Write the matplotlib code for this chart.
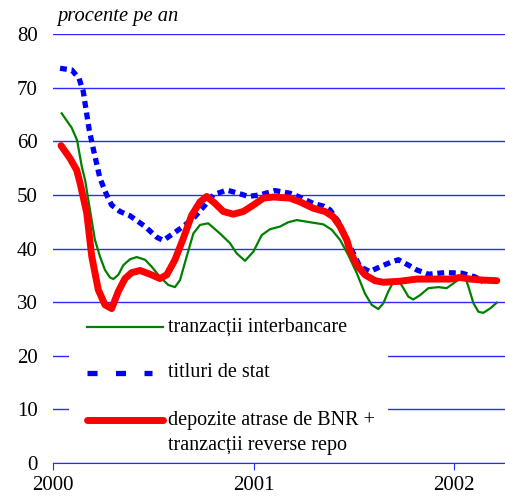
import matplotlib.pyplot as plt
from matplotlib.lines import Line2D
from matplotlib.patches import Rectangle

# months since Jan 2000
inter_m = [0.52, 1.12, 1.44, 1.72, 1.92, 2.21, 2.51, 2.81, 3.11, 3.41, 3.61, 3.91, 4.21,
           4.61, 5.01, 5.51, 5.91, 6.40, 6.90, 7.30, 7.60, 8.00, 8.40, 8.80, 9.29,
           9.99, 10.59, 10.99, 11.49, 11.99, 12.49, 12.99, 13.59, 14.08, 14.59,
           15.38, 16.18, 16.68, 17.18, 17.67, 18.18, 18.67, 19.07, 19.47, 19.77,
           20.07, 20.37, 20.67, 20.97, 21.27, 21.56, 21.97, 22.46, 23.06, 23.56,
           23.96, 24.36, 24.66, 24.86, 25.16, 25.46, 25.75, 26.15, 26.56]
inter_v = [65.2, 62.5, 60.2, 55.3, 52.8, 47.2, 41.6, 38.5, 36.0, 34.6, 34.3, 35.1, 36.9,
           38.0, 38.4, 37.9, 36.6, 34.7, 33.2, 32.8, 34.1, 38.5, 42.8, 44.4, 44.7,
           42.8, 41.0, 39.1, 37.7, 39.4, 42.5, 43.6, 44.1, 44.9, 45.3,
           44.9, 44.5, 43.5, 41.6, 38.8, 35.4, 31.6, 29.5, 28.7, 29.8,
           32.0, 33.8, 34.1, 32.6, 31.0, 30.5, 31.3, 32.6, 32.8, 32.6,
           33.5, 34.4, 34.7, 32.9, 29.8, 28.2, 28.0, 28.8, 29.9]

titluri_m = [0.42, 1.12, 1.56, 1.81, 1.98, 2.17, 2.38, 2.81, 3.21, 3.51, 4.01, 4.61, 5.51,
             6.21, 6.60, 7.20, 7.70, 8.40, 9.10, 9.59, 10.40, 11.09, 11.69, 12.39,
             13.29, 14.18, 14.68, 15.58, 16.18, 16.58, 17.08, 17.58, 18.37, 18.97,
             19.57, 20.27, 20.67, 21.27, 21.77, 22.46, 23.46, 24.46, 25.26, 25.75]
titluri_v = [73.6, 73.3, 71.7, 69.3, 65.8, 62.1, 59.0, 53.1, 50.0, 48.1, 46.9, 46.1, 44.1,
             42.1, 41.5, 42.8, 43.9, 45.6, 48.1, 50.0, 50.9, 50.3, 49.7, 50.0,
             50.8, 50.3, 49.7, 48.4, 47.9, 47.2, 45.0, 41.6, 36.6, 35.7,
             36.6, 37.5, 37.9, 36.9, 36.0, 35.2, 35.5, 35.4, 34.7, 33.8]

depozite_m = [0.48, 1.02, 1.42, 1.62, 2.02, 2.32, 2.71, 3.11, 3.51, 3.91, 4.31, 4.71, 5.21,
              5.81, 6.40, 6.81, 7.30, 7.80, 8.30, 8.80, 9.20, 9.70, 10.19, 10.79,
              11.39, 11.99, 12.59, 13.19, 14.18, 14.78, 15.58, 16.28, 16.78, 17.18,
              17.58, 17.78, 18.18, 18.67, 19.27, 19.77, 20.77, 21.77, 22.96, 23.76,
              24.36, 24.96, 25.75, 26.56]
depozite_v = [59.2, 56.8, 54.6, 52.2, 46.6, 38.5, 32.3, 29.5, 28.8, 32.0, 34.4, 35.5, 35.9,
              35.2, 34.4, 35.1, 37.9, 41.9, 46.2, 48.7, 49.7, 48.4, 46.9, 46.4,
              46.9, 48.1, 49.4, 49.6, 49.4, 48.7, 47.5, 46.9, 45.9, 44.1,
              41.6, 39.5, 36.9, 35.1, 34.0, 33.7, 33.9, 34.3, 34.3, 34.3,
              34.6, 34.3, 34.1, 34.0]

year_ticks = [0, 12, 24]
year_labels = ['2000', '2001', '2002']
labels = ['tranzacții interbancare', 'titluri de stat',
          'depozite atrase de BNR +', 'tranzacții reverse repo']

plt.rcParams['font.family'] = ['Liberation Serif', 'DejaVu Serif']

fig = plt.figure(figsize=(5.06, 5.0), dpi=100)
ax = fig.add_axes([53 / 506, 37 / 500, 452 / 506, 429 / 500])

grid_c = '#2b2bff'
ax.set_ylim(0, 80)
ax.set_xlim(0, 27.05)
ax.set_yticks(range(0, 81, 10))
ax.yaxis.grid(True, color=grid_c, lw=1)
ax.set_axisbelow(True)
for s in ['top', 'right', 'left']:
    ax.spines[s].set_visible(False)
ax.spines['bottom'].set_color(grid_c)
ax.set_xticks(year_ticks)
ax.set_xticklabels(year_labels)
ax.tick_params(axis='y', length=0, pad=11, labelsize=15)
ax.tick_params(axis='x', length=5, color=grid_c, pad=4, labelsize=15)

ax.plot(titluri_m, titluri_v, color='#0000ff', lw=3.8, dashes=(1.3, 0.9), zorder=3)
ax.plot(inter_m, inter_v, color='#008000', lw=1.6, zorder=4,
        solid_joinstyle='round')
ax.plot(depozite_m, depozite_v, color='#ff0000', lw=5, zorder=5,
        solid_capstyle='round', solid_joinstyle='round')

# legend box drawn by hand so the red key lines up with the first text line
ax.add_patch(Rectangle((0.035, 0.007), 0.706, 0.36, transform=ax.transAxes,
                       facecolor='white', edgecolor='none', zorder=2))
hx = [0.075, 0.243]
ax.add_line(Line2D(hx, [0.317, 0.317], transform=ax.transAxes, color='#008000', lw=1.6, zorder=6))
ax.add_line(Line2D([0.075, 0.22], [0.210, 0.210], transform=ax.transAxes, color='#0000ff',
                   lw=3.8, dashes=(1.9, 3.5), zorder=6))
ax.add_line(Line2D(hx, [0.100, 0.100], transform=ax.transAxes, color='#ff0000', lw=5,
                   solid_capstyle='round', zorder=6))
tx = 0.254
for y, lab in zip([0.317, 0.210, 0.100, 0.040], labels):
    ax.text(tx, y, lab, transform=ax.transAxes, fontsize=14.5, va='center', ha='left', zorder=7)

fig.text(57 / 506, 1 - 17 / 500, 'procente pe an', fontsize=14.8, style='italic',
         va='center', ha='left')

fig.savefig('out.png', dpi=100)
